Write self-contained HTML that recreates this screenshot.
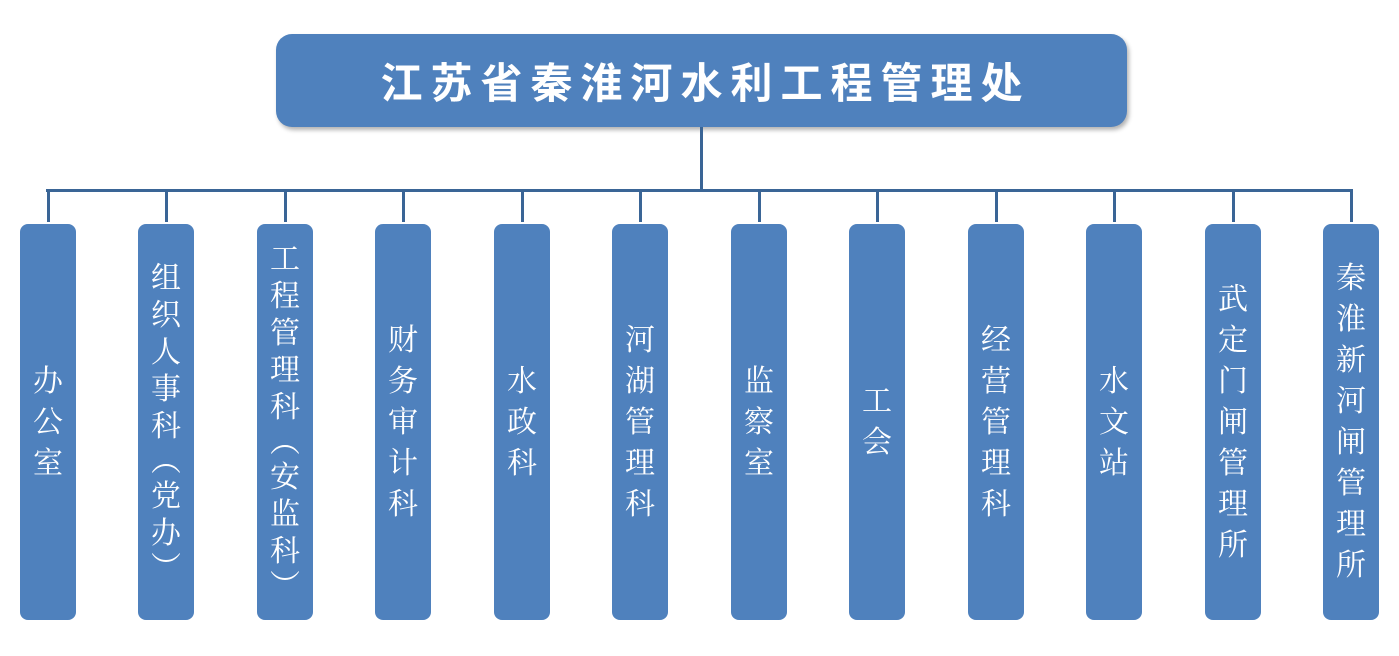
<!DOCTYPE html>
<html><head><meta charset="utf-8"><style>
body{margin:0;width:1399px;height:656px;background:#fff;position:relative;overflow:hidden}
.top{position:absolute;left:276px;top:34px;width:851px;height:93px;background:#4f81bd;border-radius:16px;box-shadow:2px 3px 4px rgba(0,0,0,.3);color:#fff;font:bold 42px "Liberation Sans","Noto Sans CJK SC",sans-serif;letter-spacing:8px;display:flex;align-items:center;justify-content:center;padding-left:8px;box-sizing:border-box}
.l{position:absolute;background:#3a6596}
.b{position:absolute;top:224px;width:56px;height:396px;background:#4f81bd;border-radius:8px;color:#fff;font:30px "Liberation Serif","Noto Serif CJK SC",serif;display:flex;flex-direction:column;align-items:center;justify-content:center}
.b div{height:41px;line-height:41px;width:40px;text-align:center}
.b div.p{height:33px;line-height:33px}
</style></head><body>
<div class="top">江苏省秦淮河水利工程管理处</div>
<div class="l" style="left:700px;top:127px;width:3px;height:64px"></div>
<div class="l" style="left:46px;top:189px;width:1307px;height:3px"></div>
<div id="c"></div>
<script>
var n=["办公室","组织人事科︵党办︶","工程管理科︵安监科︶","财务审计科","水政科","河湖管理科","监察室","工会","经营管理科","水文站","武定门闸管理所","秦淮新河闸管理所"];
var xs=[20,138,257,375,494,612,731,849,968,1086,1205,1323];
var h="";
for(var i=0;i<12;i++){var s="";var lh=n[i].length>8?"style='height:37px;line-height:37px'":"";for(var k=0;k<n[i].length;k++){var c=n[i][k];s+=(c=="︵"||c=="︶")?"<div class='p'>"+c+"</div>":"<div "+lh+">"+c+"</div>";}h+='<div class="l" style="left:'+(xs[i]+27)+'px;top:189px;width:3px;height:33px"></div><div class="b" style="left:'+xs[i]+'px">'+s+'</div>';}
document.getElementById("c").innerHTML=h;
</script>
</body></html>
